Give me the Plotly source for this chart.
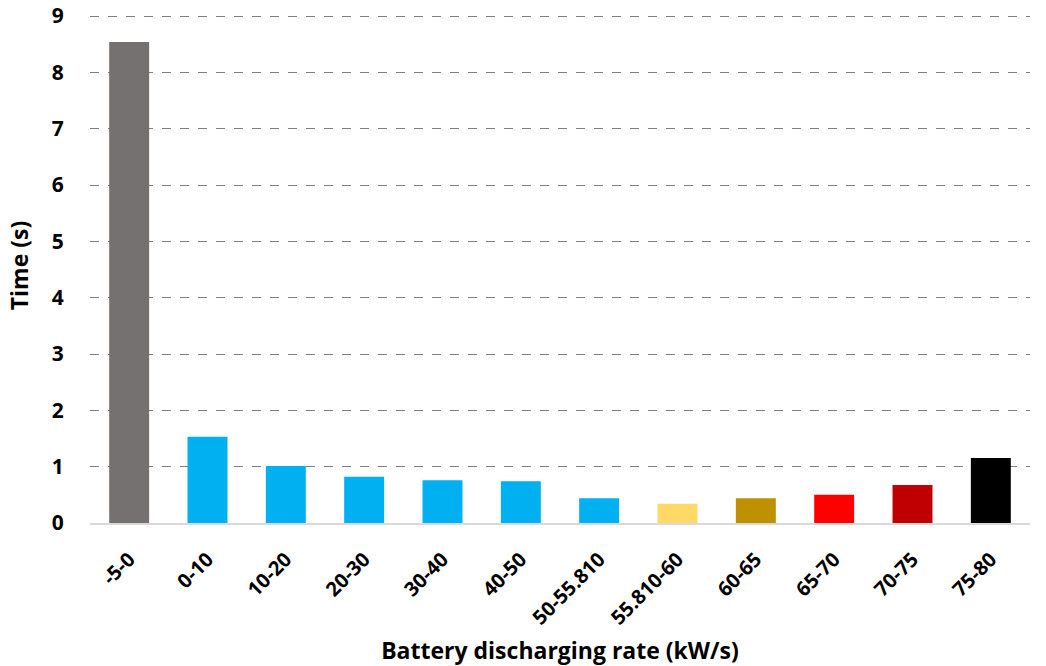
import plotly.graph_objects as go

categories = ["-5-0", "0-10", "10-20", "20-30", "30-40", "40-50", "50-55.810",
              "55.810-60", "60-65", "65-70", "70-75", "75-80"]
times = [8.54, 1.53, 1.01, 0.82, 0.76, 0.74, 0.44, 0.34, 0.44, 0.50, 0.675, 1.155]
colors = ["#767171", "#00B0F0", "#00B0F0", "#00B0F0", "#00B0F0", "#00B0F0", "#00B0F0",
          "#FFD966", "#BF9000", "#FF0000", "#C00000", "#000000"]
y_ticks = [0, 1, 2, 3, 4, 5, 6, 7, 8, 9]

FONT = "Open Sans"

fig = go.Figure()
fig.add_trace(go.Bar(x=categories, y=times, marker=dict(color=colors, line=dict(width=0)),
                     width=0.51))

fig.update_layout(
    width=1046, height=666,
    margin=dict(l=90, r=16, t=8, b=143),
    plot_bgcolor="white", paper_bgcolor="white",
    showlegend=False,
    font=dict(family=FONT, color="#000000"),
)
fig.update_yaxes(
    range=[0, 9.142], tickvals=y_ticks, automargin=False,
    ticklabeloverflow="allow",
    showgrid=True, gridcolor="#7f7f7f", griddash="dash", gridwidth=1,
    zeroline=False, showline=False,
    ticks="outside", ticklen=21, tickcolor="rgba(0,0,0,0)",
    tickfont=dict(family=FONT, size=21, weight="bold"),
    title=dict(text="Time (s)", font=dict(family=FONT, size=23, weight="bold"), standoff=16),
)
fig.update_xaxes(
    automargin=False,
    ticklabeloverflow="allow",
    showline=True, linecolor="#d9d9d9", linewidth=1.5,
    tickangle=-45,
    tickfont=dict(family=FONT, size=20, weight="bold"),
    ticks="outside", ticklen=15, tickcolor="rgba(0,0,0,0)",
    title=dict(text="Battery discharging rate (kW/s)", font=dict(family=FONT, size=23, weight="bold"),
               standoff=23),
)

fig.write_html("out.html", config={"displayModeBar": False},
               post_script="document.body.style.margin='0';")
